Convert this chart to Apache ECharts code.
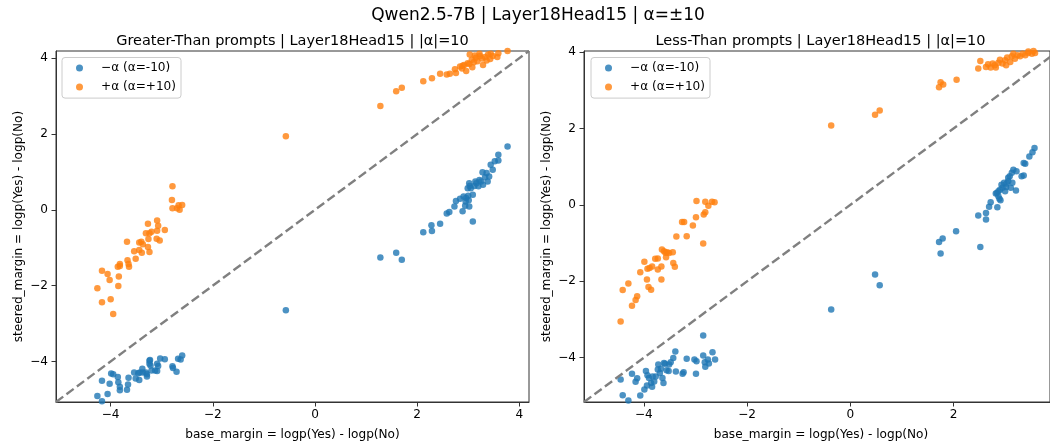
<!DOCTYPE html>
<html>
<head>
<meta charset="utf-8">
<script src="https://cdn.jsdelivr.net/npm/echarts@6/dist/echarts.min.js"></script>
<style>
html,body{margin:0;padding:0;background:#fff;}
#chart{width:1050px;height:447px;}
</style>
</head>
<body>
<div id="chart"></div>
<script>
// ---------- text ----------
var supTitle = 'Qwen2.5-7B | Layer18Head15 | \u03b1=\u00b110';
var gtTitle = 'Greater-Than prompts | Layer18Head15 | |\u03b1|=10';
var ltTitle = 'Less-Than prompts | Layer18Head15 | |\u03b1|=10';
var xName = 'base_margin = logp(Yes) - logp(No)';
var yName = 'steered_margin = logp(Yes) - logp(No)';
var seriesNames = ['\u2212\u03b1 (\u03b1=-10)', '+\u03b1 (\u03b1=+10)'];

// ---------- axes ----------
var tickValues = [-4, -2, 0, 2, 4];
var gtLimits = [-5.07, 4.19];
var ltXLimits = [-5.16, 3.87];   // right panel is cut at the page edge
var ltYLimits = [-5.16, 4.03];

// ---------- data: Greater-Than, -alpha ----------
var gtMinus = [
[-4.26,-4.91],[-4.17,-5.05],[-4.17,-4.51],[-4.06,-4.86],[-4.02,-4.59],[-3.99,-4.32],[-3.95,-4.34],[-3.86,-4.41],[-3.85,-4.55],[-3.82,-4.76],[-3.82,-4.67],[-3.68,-4.75],[-3.66,-4.61],[-3.65,-4.43],[-3.54,-4.29],[-3.51,-4.45],[-3.44,-4.49],[-3.43,-4.29],[-3.38,-4.19],[-3.37,-4.29],[-3.29,-4.40],[-3.29,-4.34],[-3.24,-3.98],[-3.23,-3.96],[-3.22,-4.11],[-3.24,-4.06],[-3.13,-4.24],[-3.09,-4.25],[-3.09,-4.06],[-3.07,-4.12],[-3.03,-3.92],[-2.94,-3.94],[-2.79,-4.13],[-2.78,-4.17],[-2.71,-4.27],[-2.68,-3.93],[-2.63,-3.95],[-2.60,-3.84],[-3.31,-4.29],[-3.20,-4.24],[-3.46,-4.31],
[-0.57,-2.65],
[1.28,-1.26],[1.59,-1.13],[1.70,-1.32],[2.12,-0.59],[2.28,-0.41],[2.29,-0.56],[2.45,-0.37],[2.58,-0.10],[2.63,-0.06],[2.73,0.09],[2.76,0.23],[2.84,0.29],[2.89,-0.04],[2.91,0.35],[2.94,0.11],[2.96,0.31],[3.00,0.37],[3.02,0.09],[3.02,0.70],[3.09,-0.31],[3.09,0.40],[3.05,0.57],[3.12,0.63],[3.16,0.70],[3.20,0.62],[3.25,0.75],[3.28,0.99],[3.29,0.66],[3.33,0.86],[3.36,0.97],[3.38,0.75],[3.41,0.88],[3.44,1.19],[3.48,1.06],[3.52,1.28],[3.59,1.45],[3.59,1.30],[3.77,1.67],[2.99,0.57],[3.03,0.63],[3.14,0.75],[3.22,0.79],[2.95,0.22],[3.01,0.25]
];
// ---------- data: Greater-Than, +alpha ----------
var gtPlus = [
[-4.26,-2.07],[-4.17,-2.44],[-4.17,-1.61],[-4.06,-1.69],[-4.02,-1.85],[-4.00,-2.36],[-3.95,-2.75],[-3.85,-2.01],[-3.84,-1.76],[-3.86,-1.50],[-3.82,-1.43],[-3.82,-1.48],[-3.68,-0.84],[-3.67,-1.33],[-3.64,-1.50],[-3.65,-1.43],[-3.54,-1.09],[-3.51,-1.29],[-3.44,-0.86],[-3.44,-1.06],[-3.40,-0.84],[-3.37,-0.91],[-3.39,-1.13],[-3.31,-0.62],[-3.27,-0.37],[-3.26,-0.77],[-3.24,-0.62],[-3.27,-0.98],[-3.24,-1.11],[-3.20,-0.58],[-3.09,-0.28],[-3.09,-0.55],[-3.07,-0.42],[-3.10,-0.76],[-3.04,-0.81],[-2.94,-0.53],[-2.79,0.62],[-2.80,0.26],[-2.79,0.04],[-2.70,0.04],[-2.65,0.00],[-2.67,0.12],[-2.60,0.13],
[-0.57,1.94],
[1.28,2.74],[1.59,3.13],[1.70,3.22],[2.12,3.39],[2.29,3.47],[2.45,3.59],[2.58,3.57],[2.64,3.59],[2.74,3.71],[2.76,3.61],[2.84,3.78],[2.88,3.73],[2.92,3.82],[2.96,3.66],[2.99,3.87],[3.03,4.10],[3.07,3.96],[3.11,3.89],[3.15,4.01],[3.18,3.92],[3.23,4.06],[3.27,3.99],[3.29,3.82],[3.33,4.03],[3.39,4.10],[3.43,3.98],[3.48,4.06],[3.57,4.03],[3.59,4.13],[3.77,4.19],[3.08,3.76],[3.02,3.85],[2.89,3.80],[3.22,4.12],[3.44,4.12],[3.36,3.94],[3.13,4.07]
];
// ---------- data: Less-Than, -alpha ----------
var ltMinus = [
[-4.45,-4.57],[-4.41,-4.98],[-4.30,-5.12],[-4.23,-4.42],[-4.16,-4.63],[-4.13,-4.54],[-4.07,-4.99],[-3.99,-4.83],[-3.96,-4.35],[-3.94,-4.73],[-3.93,-4.46],[-3.90,-4.53],[-3.86,-4.66],[-3.84,-4.76],[-3.80,-4.62],[-3.77,-4.49],[-3.72,-4.18],[-3.69,-4.40],[-3.67,-4.29],[-3.64,-4.53],[-3.62,-4.66],[-3.59,-4.16],[-3.56,-4.33],[-3.52,-4.35],[-3.51,-4.18],[-3.48,-4.12],[-3.43,-4.01],[-3.39,-3.84],[-3.38,-4.36],[-3.25,-4.42],[-3.23,-4.38],[-3.17,-4.03],[-3.02,-4.05],[-2.99,-4.42],[-2.98,-4.09],[-2.85,-3.42],[-2.85,-3.94],[-2.82,-4.12],[-2.81,-4.24],[-2.76,-4.05],[-2.74,-4.15],[-2.67,-3.86],[-2.62,-4.05],[-3.73,-4.31],[-3.61,-4.14],[-3.83,-4.49],
[-0.37,-2.74],[0.48,-1.82],[0.57,-2.10],
[1.72,-0.97],[1.75,-1.27],[1.79,-0.88],[2.05,-0.69],[2.52,-1.10],[2.48,-0.28],[2.63,-0.38],[2.63,-0.21],[2.69,-0.05],[2.72,0.07],[2.85,-0.06],[2.82,0.30],[2.87,0.36],[2.89,0.16],[2.91,0.12],[2.93,0.53],[2.95,0.45],[2.98,0.58],[3.02,0.47],[3.06,0.62],[3.09,0.75],[3.11,0.45],[3.13,0.84],[3.16,0.92],[3.21,0.38],[3.22,0.88],[3.32,0.75],[3.36,0.77],[3.36,1.10],[3.39,1.08],[3.47,1.27],[3.53,1.38],[3.57,1.49],[2.84,0.31],[2.90,0.40],[3.00,0.36],[3.03,0.56],[3.06,0.71],[3.14,0.58],[2.87,0.23]
];
// ---------- data: Less-Than, +alpha ----------
var ltPlus = [
[-4.45,-3.05],[-4.41,-2.23],[-4.30,-2.06],[-4.23,-2.64],[-4.16,-2.49],[-4.13,-2.39],[-4.07,-1.76],[-3.99,-1.49],[-3.94,-1.95],[-3.93,-1.67],[-3.91,-2.15],[-3.86,-2.22],[-3.89,-1.65],[-3.84,-1.61],[-3.78,-1.41],[-3.73,-1.40],[-3.73,-1.69],[-3.66,-1.95],[-3.66,-1.61],[-3.65,-1.17],[-3.61,-1.21],[-3.57,-1.37],[-3.55,-1.24],[-3.51,-1.26],[-3.44,-1.24],[-3.43,-1.52],[-3.40,-1.62],[-3.37,-0.83],[-3.26,-0.45],[-3.22,-0.45],[-3.17,-0.82],[-3.05,-0.54],[-2.99,-0.32],[-2.98,0.10],[-2.85,-1.01],[-2.84,-0.25],[-2.81,-0.19],[-2.81,0.08],[-2.75,-0.02],[-2.68,0.08],[-2.63,0.07],[-3.58,-1.25],
[-0.37,2.08],[0.48,2.36],[0.57,2.47],
[1.72,3.08],[1.75,3.21],[1.80,3.15],[2.06,3.28],
[2.48,3.57],[2.52,3.77],[2.63,3.61],[2.67,3.68],[2.72,3.60],[2.76,3.70],[2.80,3.66],[2.82,3.60],[2.87,3.72],[2.90,3.80],[2.95,3.70],[3.00,3.79],[3.02,3.66],[3.04,3.86],[3.10,3.74],[3.13,3.89],[3.16,3.96],[3.19,3.83],[3.24,3.92],[3.29,3.89],[3.34,3.96],[3.39,3.92],[3.45,3.98],[3.52,3.96],[3.58,3.98],[3.45,4.02],[3.55,4.03]
];

var colors = ['#1f77b4', '#ff7f0e'];
var FONT = 'DejaVu Sans';

function fmt(v){ return String(v).replace('-', '\u2212'); }

function mkX(idx, lim, shift){
  return {
    type:'value', gridIndex: idx, min: lim[0], max: lim[1],
    name: xName, nameLocation:'middle', nameGap: 27,
    nameTextStyle:{fontFamily:FONT, fontSize:12.1, color:'#000', padding:[0,0,0,shift]},
    axisLine:{show:true, onZero:false, lineStyle:{color:'#333', width:1}},
    axisTick:{show:true, inside:false, length:4.5, customValues: tickValues, lineStyle:{color:'#333', width:1}},
    axisLabel:{customValues: tickValues, formatter: fmt, margin:7, fontFamily:FONT, fontSize:12.1, color:'#000'},
    splitLine:{show:false}
  };
}
function mkY(idx, lim){
  return {
    type:'value', gridIndex: idx, min: lim[0], max: lim[1],
    name: yName, nameLocation:'middle', nameGap: 31, nameRotate: 90,
    nameTextStyle:{fontFamily:FONT, fontSize:12.1, color:'#000'},
    axisLine:{show:true, onZero:false, lineStyle:{color:'#333', width:1}},
    axisTick:{show:true, inside:false, length:4.5, customValues: tickValues, lineStyle:{color:'#333', width:1}},
    axisLabel:{customValues: tickValues, formatter: fmt, margin:8, fontFamily:FONT, fontSize:12.1, color:'#000'},
    splitLine:{show:false}
  };
}
function mkScatter(name, data, idx, color){
  return {type:'scatter', name:name, data:data, xAxisIndex:idx, yAxisIndex:idx,
    symbol:'circle', symbolSize:6.5, itemStyle:{color:color, opacity:0.8}, z:2};
}
function mkDiag(idx, lim){
  return {type:'line', data:[[lim[0],lim[0]],[lim[1],lim[1]]], xAxisIndex:idx, yAxisIndex:idx,
    symbol:'none', silent:true, z:3, clip:true,
    lineStyle:{color:'#808080', width:2.4, type:[9,4]}};
}
function mkLegend(left){
  return {
    data: seriesNames, orient:'vertical', left:left, top:57.5,
    icon:'circle', itemWidth:7, itemHeight:7, itemGap:5,
    padding:[3.6,5,4,14], selectedMode:false,
    backgroundColor:'rgba(255,255,255,0.8)', borderColor:'#cccccc', borderWidth:1, borderRadius:3,
    itemStyle:{opacity:0.8},
    textStyle:{fontFamily:FONT, fontSize:12.1, color:'#000', lineHeight:14, padding:[0,0,0,13]}
  };
}

var chart = echarts.init(document.getElementById('chart'), null, {renderer:'canvas'});
chart.setOption({
  backgroundColor:'#fff',
  animation:false,
  textStyle:{fontFamily:FONT},
  title:[
    {text:supTitle, left:538, top:7, textAlign:'center', padding:0, textStyle:{fontFamily:FONT, fontSize:17, fontWeight:'normal', color:'#000'}},
    {text:gtTitle, left:292.5, top:33.5, textAlign:'center', padding:0, textStyle:{fontFamily:FONT, fontSize:14.5, fontWeight:'normal', color:'#000'}},
    {text:ltTitle, left:820.5, top:33.5, textAlign:'center', padding:0, textStyle:{fontFamily:FONT, fontSize:14.5, fontWeight:'normal', color:'#000'}}
  ],
  legend:[mkLegend(62), mkLegend(591)],
  grid:[
    {left:56, top:51, width:473, height:351, show:true, borderColor:'#333', borderWidth:1, backgroundColor:'transparent'},
    {left:584, top:51, right:0, height:351, show:true, borderColor:'#333', borderWidth:1, backgroundColor:'transparent'}
  ],
  xAxis:[mkX(0, gtLimits, 0), mkX(1, ltXLimits, 8)],
  yAxis:[mkY(0, gtLimits), mkY(1, ltYLimits)],
  series:[
    mkScatter(seriesNames[0], gtMinus, 0, colors[0]),
    mkScatter(seriesNames[1], gtPlus, 0, colors[1]),
    mkDiag(0, gtLimits),
    mkScatter(seriesNames[0], ltMinus, 1, colors[0]),
    mkScatter(seriesNames[1], ltPlus, 1, colors[1]),
    mkDiag(1, ltYLimits)
  ]
});
</script>
</body>
</html>
